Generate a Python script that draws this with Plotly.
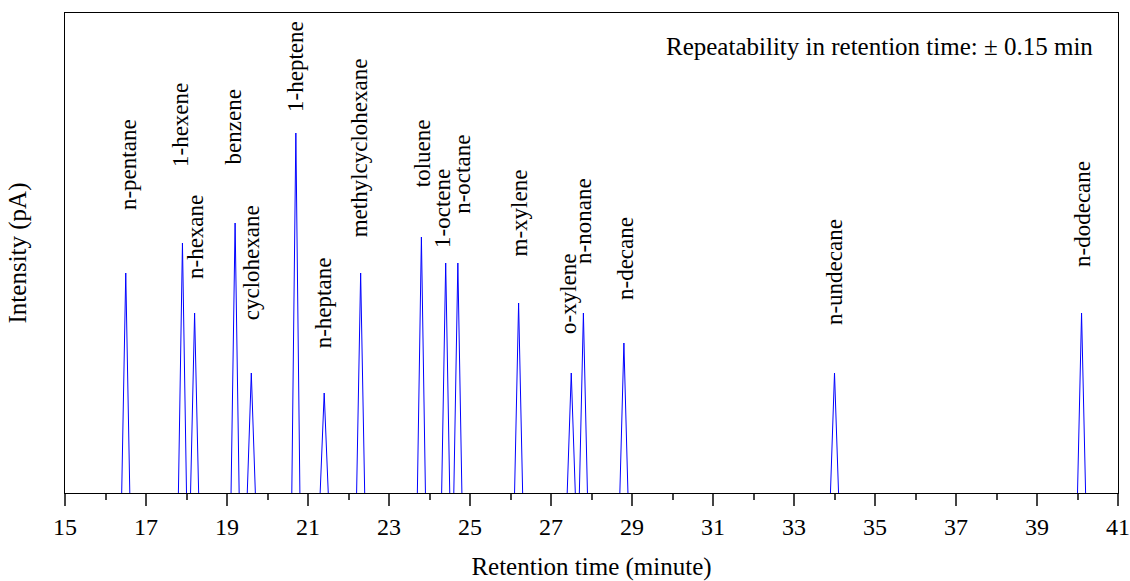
import plotly.graph_objects as go

compounds = ["n-pentane", "1-hexene", "n-hexane", "benzene", "cyclohexane", "1-heptene",
             "n-heptane", "methylcyclohexane", "toluene", "1-octene", "n-octane", "m-xylene",
             "o-xylene", "n-nonane", "n-decane", "n-undecane", "n-dodecane"]
retention_time = [16.5, 17.9, 18.2, 19.2, 19.6, 20.7, 21.4, 22.3, 23.8, 24.4, 24.7,
                  26.2, 27.5, 27.8, 28.8, 34.0, 40.1]
intensity = [22, 25, 18, 27, 12, 36, 10, 22, 25.6, 23, 23, 19, 12, 18, 15, 12, 18]

# label anchor (bottom of rotated text), in data units
label_x = [16.57, 17.84, 18.21, 19.17, 19.61, 20.69, 21.39, 22.28, 23.82, 24.32, 24.81,
           26.21, 27.42, 27.79, 28.84, 33.99, 40.11]
label_y = [28.2, 32.5, 21.3, 32.8, 17.2, 38.0, 14.4, 25.5, 30.5, 24.4, 27.8,
           23.5, 15.8, 22.8, 19.2, 16.7, 22.5]

x_ticks = list(range(15, 42, 2))
half_width = 0.1

xs, ys = [], []
for t, h in zip(retention_time, intensity):
    xs += [t - half_width, t, t + half_width, None]
    ys += [0, h, 0, None]

FONT = "Liberation Serif"

fig = go.Figure()
fig.add_trace(go.Scatter(x=xs, y=ys, mode="lines", line=dict(color="#0000ff", width=1),
                         hoverinfo="skip", showlegend=False))

for name, lx, ly in zip(compounds, label_x, label_y):
    fig.add_annotation(x=lx, y=ly, text=name, textangle=-90, showarrow=False,
                       xanchor="center", yanchor="bottom", borderpad=0,
                       font=dict(family=FONT, size=23, color="black"))

fig.add_annotation(x=40.42, y=44.7, text="Repeatability in retention time: \u00b1 0.15 min",
                   showarrow=False, xanchor="right", yanchor="middle",
                   font=dict(family=FONT, size=25, color="black"))

fig.update_layout(
    width=1130, height=581,
    margin=dict(l=65, r=12, t=13, b=88),
    paper_bgcolor="white", plot_bgcolor="white",
    font=dict(family=FONT, color="black"),
    xaxis=dict(range=[15, 41], tickmode="array", tickvals=x_ticks,
               ticktext=[str(v) for v in x_ticks], automargin=False,
               ticks="outside", ticklen=12, tickwidth=1.5, tickcolor="#444",
               minor=dict(dtick=1, tick0=15, ticks="outside", ticklen=6, tickwidth=1.5, tickcolor="#444"),
               showline=True, mirror=True, linecolor="black", linewidth=1.2,
               showgrid=False, zeroline=False,
               tickfont=dict(family=FONT, size=24, color="black"),
               title=dict(text="Retention time (minute)", font=dict(family=FONT, size=25, color="black"),
                          standoff=20)),
    yaxis=dict(range=[0, 48], showticklabels=False, ticks="", automargin=False,
               showline=True, mirror=True, linecolor="black", linewidth=1.2,
               showgrid=False, zeroline=False,
               title=dict(text="Intensity (pA)", font=dict(family=FONT, size=25, color="black"),
                          standoff=30)),
)

fig.write_html("out.html")
